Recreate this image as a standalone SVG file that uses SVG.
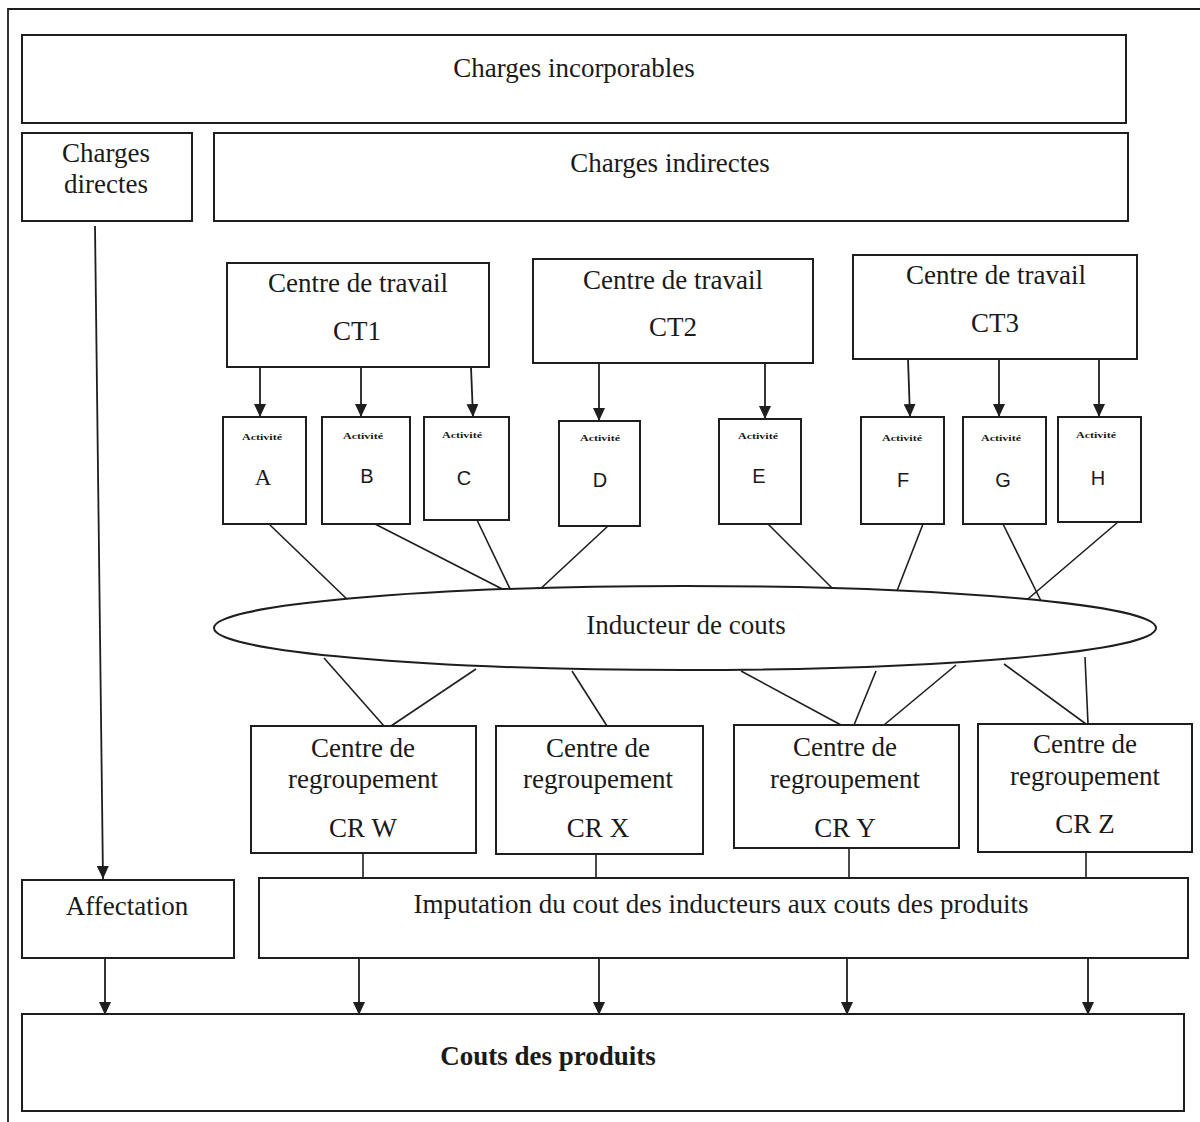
<svg xmlns="http://www.w3.org/2000/svg" width="1200" height="1122" viewBox="0 0 1200 1122">
  <style>
    .box { fill: #ffffff; stroke: #1e1e1e; stroke-width: 2; }
    .link { fill: none; stroke: #1e1e1e; stroke-width: 1.6; }
    .arrow { fill: none; stroke: #1e1e1e; stroke-width: 1.8; marker-end: url(#head); }
    .frame { fill: none; stroke: #1e1e1e; stroke-width: 1.8; }
    .t { font-family: "Liberation Serif", "Times New Roman", serif; font-size: 27px; fill: #1a1a1a; text-anchor: middle; }
    .b { font-weight: bold; }
    .act { font-family: "Liberation Serif", "Times New Roman", serif; font-size: 9px; font-weight: bold; fill: #1a1a1a; text-anchor: middle; }
    .let { font-family: "Liberation Sans", Arial, sans-serif; font-size: 20px; fill: #1a1a1a; text-anchor: middle; }
    .lets { font-family: "Liberation Serif", "Times New Roman", serif; font-size: 23px; fill: #1a1a1a; text-anchor: middle; }
  </style>
  <defs>
    <marker id="head" markerUnits="userSpaceOnUse" markerWidth="14" markerHeight="12" refX="13" refY="6" orient="auto">
      <path d="M0,0 L13,6 L0,12 z" fill="#1e1e1e"/>
    </marker>
  </defs>

  <rect width="1200" height="1122" fill="#ffffff"/>

  <!-- page frame (top and left edges) -->
  <path class="frame" d="M8,1122 L8,9 L1200,9"/>

  <!-- connectors -->
  <g id="connectors">
    <!-- direct charges -->
    <line class="arrow" x1="95" y1="226" x2="103" y2="879"/>
    <!-- work centres to activities -->
    <line class="arrow" x1="260" y1="367" x2="260" y2="417"/>
    <line class="arrow" x1="361" y1="367" x2="361" y2="417"/>
    <line class="arrow" x1="471" y1="367" x2="473" y2="417"/>
    <line class="arrow" x1="599" y1="363" x2="599" y2="421"/>
    <line class="arrow" x1="765" y1="363" x2="765" y2="419"/>
    <line class="arrow" x1="908" y1="359" x2="910" y2="417"/>
    <line class="arrow" x1="999" y1="356" x2="999" y2="417"/>
    <line class="arrow" x1="1099" y1="359" x2="1099" y2="417"/>
    <!-- activities to cost drivers -->
    <line class="link" x1="270" y1="525" x2="351" y2="603"/>
    <line class="link" x1="375" y1="524" x2="510" y2="593"/>
    <line class="link" x1="477" y1="520" x2="512" y2="593"/>
    <line class="link" x1="608" y1="526" x2="537" y2="592"/>
    <line class="link" x1="768" y1="524" x2="837" y2="593"/>
    <line class="link" x1="923" y1="524" x2="895" y2="596"/>
    <line class="link" x1="1003" y1="524" x2="1043" y2="605"/>
    <line class="link" x1="1118" y1="522" x2="1022" y2="604"/>
    <!-- cost drivers to cost pools -->
    <line class="link" x1="324" y1="658" x2="384" y2="726"/>
    <line class="link" x1="476" y1="669" x2="391" y2="726"/>
    <line class="link" x1="572" y1="671" x2="607" y2="726"/>
    <line class="link" x1="741" y1="671" x2="841" y2="725"/>
    <line class="link" x1="876" y1="671" x2="854" y2="725"/>
    <line class="link" x1="956" y1="665" x2="884" y2="725"/>
    <line class="link" x1="1004" y1="664" x2="1086" y2="724"/>
    <line class="link" x1="1085" y1="657" x2="1088" y2="724"/>
    <!-- cost pools to imputation -->
    <line class="link" x1="363" y1="853" x2="363" y2="879"/>
    <line class="link" x1="596" y1="854" x2="596" y2="879"/>
    <line class="link" x1="849" y1="848" x2="849" y2="879"/>
    <line class="link" x1="1086" y1="852" x2="1086" y2="879"/>
    <!-- into product costs -->
    <line class="arrow" x1="105" y1="958" x2="105" y2="1015"/>
    <line class="arrow" x1="359" y1="958" x2="359" y2="1015"/>
    <line class="arrow" x1="599" y1="955" x2="599" y2="1015"/>
    <line class="arrow" x1="847" y1="958" x2="847" y2="1015"/>
    <line class="arrow" x1="1088" y1="958" x2="1088" y2="1015"/>
  </g>

  <g id="charges-incorporables">
    <rect class="box" x="22" y="35" width="1104" height="88"/>
    <text class="t" x="574" y="77">Charges incorporables</text>
  </g>

  <g id="charges-directes">
    <rect class="box" x="22" y="133" width="170" height="88"/>
    <text class="t" x="106" y="162">Charges</text>
    <text class="t" x="106" y="193">directes</text>
  </g>

  <g id="charges-indirectes">
    <rect class="box" x="214" y="133" width="914" height="88"/>
    <text class="t" x="670" y="172">Charges indirectes</text>
  </g>

  <g id="ct1">
    <rect class="box" x="227" y="263" width="262" height="104"/>
    <text class="t" x="358" y="292">Centre de travail</text>
    <text class="t" x="357" y="340">CT1</text>
  </g>

  <g id="ct2">
    <rect class="box" x="533" y="259" width="280" height="104"/>
    <text class="t" x="673" y="289">Centre de travail</text>
    <text class="t" x="673" y="336">CT2</text>
  </g>

  <g id="ct3">
    <rect class="box" x="853" y="255" width="284" height="104"/>
    <text class="t" x="996" y="284">Centre de travail</text>
    <text class="t" x="995" y="332">CT3</text>
  </g>

  <g id="activite-a">
    <rect class="box" x="223" y="417" width="83" height="107"/>
    <text class="act" x="262" y="440" textLength="40" lengthAdjust="spacingAndGlyphs">Activité</text>
    <text class="lets" x="263" y="485">A</text>
  </g>
  <g id="activite-b">
    <rect class="box" x="322" y="417" width="88" height="107"/>
    <text class="act" x="363" y="439" textLength="40" lengthAdjust="spacingAndGlyphs">Activité</text>
    <text class="let" x="367" y="483">B</text>
  </g>
  <g id="activite-c">
    <rect class="box" x="424" y="417" width="85" height="103"/>
    <text class="act" x="462" y="438" textLength="40" lengthAdjust="spacingAndGlyphs">Activité</text>
    <text class="let" x="464" y="485">C</text>
  </g>
  <g id="activite-d">
    <rect class="box" x="559" y="421" width="81" height="105"/>
    <text class="act" x="600" y="441" textLength="40" lengthAdjust="spacingAndGlyphs">Activité</text>
    <text class="let" x="600" y="487">D</text>
  </g>
  <g id="activite-e">
    <rect class="box" x="719" y="419" width="82" height="105"/>
    <text class="act" x="758" y="439" textLength="40" lengthAdjust="spacingAndGlyphs">Activité</text>
    <text class="let" x="759" y="483">E</text>
  </g>
  <g id="activite-f">
    <rect class="box" x="861" y="417" width="83" height="107"/>
    <text class="act" x="902" y="441" textLength="40" lengthAdjust="spacingAndGlyphs">Activité</text>
    <text class="let" x="903" y="487">F</text>
  </g>
  <g id="activite-g">
    <rect class="box" x="963" y="417" width="83" height="107"/>
    <text class="act" x="1001" y="441" textLength="40" lengthAdjust="spacingAndGlyphs">Activité</text>
    <text class="let" x="1003" y="487">G</text>
  </g>
  <g id="activite-h">
    <rect class="box" x="1058" y="417" width="83" height="105"/>
    <text class="act" x="1096" y="438" textLength="40" lengthAdjust="spacingAndGlyphs">Activité</text>
    <text class="let" x="1098" y="485">H</text>
  </g>

  <g id="inducteur">
    <ellipse class="box" cx="685" cy="628" rx="471" ry="42"/>
    <text class="t" x="686" y="634">Inducteur de couts</text>
  </g>

  <g id="cr-w">
    <rect class="box" x="251" y="726" width="225" height="127"/>
    <text class="t" x="363" y="757">Centre de</text>
    <text class="t" x="363" y="788">regroupement</text>
    <text class="t" x="363" y="837">CR W</text>
  </g>
  <g id="cr-x">
    <rect class="box" x="496" y="726" width="207" height="128"/>
    <text class="t" x="598" y="757">Centre de</text>
    <text class="t" x="598" y="788">regroupement</text>
    <text class="t" x="598" y="837">CR X</text>
  </g>
  <g id="cr-y">
    <rect class="box" x="734" y="725" width="225" height="123"/>
    <text class="t" x="845" y="756">Centre de</text>
    <text class="t" x="845" y="788">regroupement</text>
    <text class="t" x="845" y="837">CR Y</text>
  </g>
  <g id="cr-z">
    <rect class="box" x="978" y="724" width="214" height="128"/>
    <text class="t" x="1085" y="753">Centre de</text>
    <text class="t" x="1085" y="785">regroupement</text>
    <text class="t" x="1085" y="833">CR Z</text>
  </g>

  <g id="affectation">
    <rect class="box" x="22" y="880" width="212" height="78"/>
    <text class="t" x="127" y="915">Affectation</text>
  </g>

  <g id="imputation">
    <rect class="box" x="259" y="878" width="929" height="80"/>
    <text class="t" x="721" y="913">Imputation du cout des inducteurs aux couts des produits</text>
  </g>

  <g id="couts-produits">
    <rect class="box" x="22" y="1014" width="1162" height="97"/>
    <text class="t b" x="548" y="1065">Couts des produits</text>
  </g>
</svg>
